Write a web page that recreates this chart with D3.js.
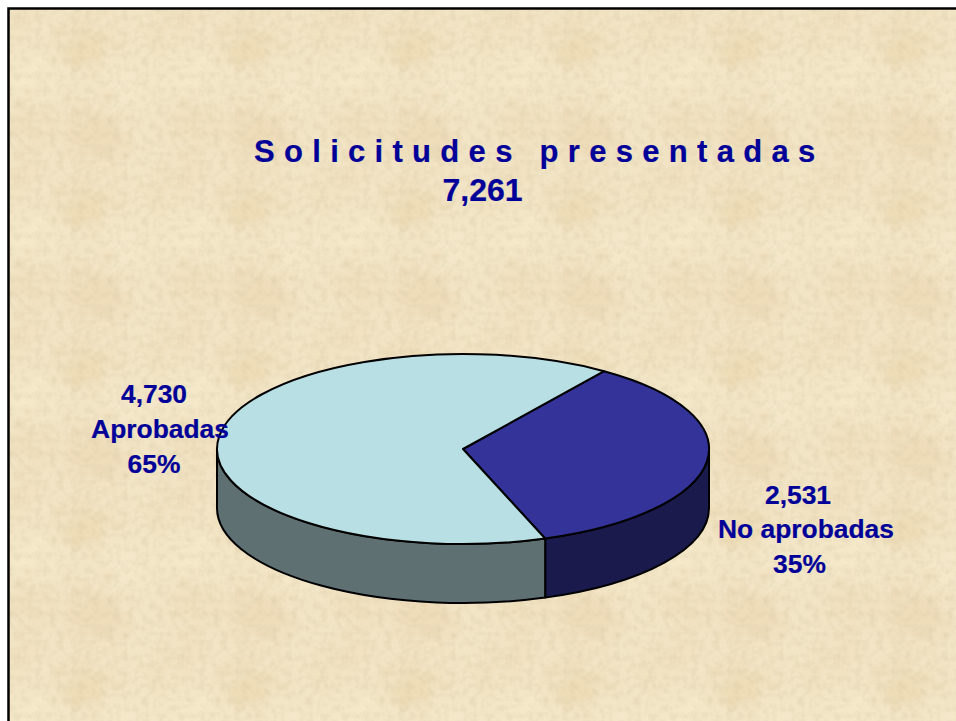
<!DOCTYPE html>
<html lang="es">
<head>
<meta charset="utf-8">
<title>Solicitudes presentadas</title>
<script src="https://cdn.jsdelivr.net/npm/d3@7"></script>
<style>
  html, body { margin: 0; padding: 0; background: #fff; overflow: hidden; }
  svg { display: block; }
  text { font-family: "Liberation Sans", Arial, sans-serif; font-weight: bold; fill: #000099; stroke: #000099; stroke-width: 0.2px; }
</style>
</head>
<body>
<div id="chart"></div>
<script>
// Datos
const categorias = ['No aprobadas', 'Aprobadas'];
const valores = [2531, 4730];
const titulo = 'Solicitudes presentadas';

const total = d3.sum(valores);
const fmtValor = d3.format(',');
const fmtPct = d3.format('.0%');

const width = 956, height = 721;
const cx = 463, cy = 449, rx = 246, ry = 95, grosor = 59;
const inicio = 35 * Math.PI / 180;

const coloresTapa = { 'No aprobadas': '#333399', 'Aprobadas': '#b8dfe3' };
const coloresLado = { 'No aprobadas': '#1a1a4d', 'Aprobadas': '#5f7073' };

const svg = d3.select('#chart').append('svg')
  .attr('width', width)
  .attr('height', height);

// Fondo de papel: un mosaico que se repite
const tileW = 164, tileH = 160;
const defs = svg.append('defs');

const blur = defs.append('filter').attr('id', 'blur')
  .attr('filterUnits', 'userSpaceOnUse')
  .attr('x', -20).attr('y', -20).attr('width', tileW + 40).attr('height', tileH + 40);
blur.append('feGaussianBlur').attr('stdDeviation', 10).attr('result', 'b');
blur.append('feTurbulence')
  .attr('type', 'fractalNoise')
  .attr('baseFrequency', 0.06)
  .attr('numOctaves', 3)
  .attr('seed', 4)
  .attr('result', 'n');
blur.append('feDisplacementMap')
  .attr('in', 'b').attr('in2', 'n')
  .attr('scale', 40)
  .attr('xChannelSelector', 'R').attr('yChannelSelector', 'G');

const grano = defs.append('filter').attr('id', 'grano')
  .attr('x', 0).attr('y', 0).attr('width', '100%').attr('height', '100%');
grano.append('feTurbulence')
  .attr('type', 'fractalNoise')
  .attr('baseFrequency', 0.14)
  .attr('numOctaves', 3)
  .attr('seed', 23)
  .attr('stitchTiles', 'stitch');
grano.append('feColorMatrix').attr('type', 'matrix')
  .attr('values', '0 0 0 0 0.62  0 0 0 0 0.52  0 0 0 0 0.32  1.5 0 0 0 -0.58');

const tile = defs.append('pattern').attr('id', 'papel')
  .attr('patternUnits', 'userSpaceOnUse')
  .attr('width', tileW).attr('height', tileH);

tile.append('rect').attr('width', tileW).attr('height', tileH).attr('fill', '#f2e5c6');

const manchas = [
  [85, 45, 28, 20, '#e7cf9f', 0.42],
  [95, 135, 28, 30, '#e9cfa8', 0.42],
  [20, 16, 16, 9, '#e9cfa8', 0.35],
  [158, 33, 12, 9, '#e9d29c', 0.35],
  [30, 75, 28, 14, '#f8eecf', 0.6],
  [125, 85, 32, 16, '#f8eecf', 0.5],
  [30, 130, 22, 24, '#ead7b0', 0.45]
];
const wrap = tile.append('g').attr('filter', 'url(#blur)');
[-tileW, 0, tileW].forEach(dx => {
  [-tileH, 0, tileH].forEach(dy => {
    manchas.forEach(m => {
      wrap.append('ellipse')
        .attr('cx', m[0] + dx).attr('cy', m[1] + dy)
        .attr('rx', m[2]).attr('ry', m[3])
        .attr('fill', m[4]).attr('opacity', m[5]);
    });
  });
});
tile.append('rect').attr('width', tileW).attr('height', tileH)
  .attr('filter', 'url(#grano)').attr('opacity', 0.4);

svg.append('rect')
  .attr('x', 8.5).attr('y', 8.5)
  .attr('width', width).attr('height', height)
  .attr('fill', 'url(#papel)')
  .attr('stroke', '#000')
  .attr('stroke-width', 2.5);

// Pastel en perspectiva
const pie = d3.pie().sort(null)
  .startAngle(inicio)
  .endAngle(inicio + 2 * Math.PI);
const sectores = pie(valores);

const px = a => cx + rx * Math.sin(a);
const py = a => cy - ry * Math.cos(a);

// Solo la parte delantera del borde (de 90 a 270 grados) queda a la vista
function lado(d) {
  const a0 = Math.max(d.startAngle, Math.PI / 2);
  const a1 = Math.min(d.endAngle, 3 * Math.PI / 2);
  return `M${px(a0)},${py(a0)}` +
    `A${rx},${ry} 0 0 1 ${px(a1)},${py(a1)}` +
    `L${px(a1)},${py(a1) + grosor}` +
    `A${rx},${ry} 0 0 0 ${px(a0)},${py(a0) + grosor}Z`;
}

svg.append('g').selectAll('path')
  .data(sectores)
  .enter()
  .append('path')
  .attr('d', lado)
  .attr('fill', d => coloresLado[categorias[d.index]])
  .attr('stroke', '#000')
  .attr('stroke-width', 2)
  .attr('stroke-linejoin', 'round');

const arc = d3.arc().innerRadius(0).outerRadius(rx);

svg.append('g')
  .attr('transform', `translate(${cx},${cy}) scale(1,${ry / rx})`)
  .selectAll('path')
  .data(sectores)
  .enter()
  .append('path')
  .attr('d', arc)
  .attr('fill', d => coloresTapa[categorias[d.index]])
  .attr('stroke', '#000')
  .attr('stroke-width', 2)
  .attr('stroke-linejoin', 'round')
  .attr('vector-effect', 'non-scaling-stroke');

// Titulo
svg.append('text')
  .attr('x', 254).attr('y', 162)
  .attr('font-size', 31)
  .attr('letter-spacing', 9.3)
  .text(titulo);

svg.append('text')
  .attr('x', 482.5).attr('y', 201)
  .attr('text-anchor', 'middle')
  .attr('font-size', 32)
  .text(fmtValor(total));

// Etiquetas de cada sector
const posEtiquetas = {
  'No aprobadas': { lineas: [[798, 504], [806, 538], [799.5, 573]] },
  'Aprobadas': { lineas: [[154, 403], [160, 438], [154, 473]] }
};

sectores.forEach(d => {
  const cat = categorias[d.index];
  const textos = [fmtValor(d.value), cat, fmtPct(d.value / total)];
  svg.append('g').selectAll('text')
    .data(textos)
    .enter()
    .append('text')
    .attr('x', (t, i) => posEtiquetas[cat].lineas[i][0])
    .attr('y', (t, i) => posEtiquetas[cat].lineas[i][1])
    .attr('text-anchor', 'middle')
    .attr('font-size', 26.4)
    .text(t => t);
});
</script>
</body>
</html>
